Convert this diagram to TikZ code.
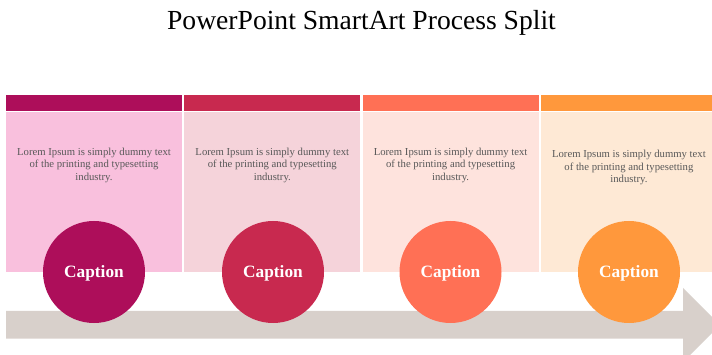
\documentclass[tikz,border=0pt]{standalone}
\usepackage{fontspec}
\setmainfont{Liberation Serif}
\definecolor{barA}{HTML}{AD0E5A}
\definecolor{barB}{HTML}{C8294F}
\definecolor{barC}{HTML}{FF7055}
\definecolor{barD}{HTML}{FF983C}
\definecolor{panA}{HTML}{F9C0DD}
\definecolor{panB}{HTML}{F5D3DA}
\definecolor{panC}{HTML}{FEE3DD}
\definecolor{panD}{HTML}{FEE9D5}
\definecolor{arrowgray}{HTML}{D8D0CB}
\definecolor{bodytext}{HTML}{595959}
\tikzset{
  bodytxt/.style={text=bodytext, font=\fontsize{10.7}{12.5}\selectfont, align=center, inner sep=0pt},
  capcircle/.style={circle, minimum size=102pt, inner sep=0pt, fill=#1},
  captxt/.style={text=white, font=\fontsize{17.3}{19}\selectfont\bfseries, inner sep=0pt, anchor=base},
}
\begin{document}
\begin{tikzpicture}[x=1pt,y=-1pt]
\useasboundingbox (0,0) rectangle (712,355);
\begin{scope}
\clip (0,0) rectangle (712,355);
% title
\node[anchor=base, font=\fontsize{27.6}{31}\selectfont, inner sep=0pt] (title) at (361.5,29.5) {PowerPoint SmartArt Process Split};
% panels
\foreach \i/\bc/\pc in {0/barA/panA,1/barB/panB,2/barC/panC,3/barD/panD}{
  \pgfmathsetmacro{\xl}{6+178.3*\i}
  \fill[\bc] (\xl,95) rectangle ++(176,15.7);
  \fill[\pc] (\xl,112.3) rectangle ++(176,159.4);
}
% texts
\node[bodytxt] (t1) at (94,165) {Lorem Ipsum is simply dummy text\\of the printing and typesetting\\industry.};
\node[bodytxt] (t2) at (272.3,165) {Lorem Ipsum is simply dummy text\\of the printing and typesetting\\industry.};
\node[bodytxt] (t3) at (450.6,165) {Lorem Ipsum is simply dummy text\\of the printing and typesetting\\industry.};
\node[bodytxt] (t4) at (628.9,167.5) {Lorem Ipsum is simply dummy text\\of the printing and typesetting\\industry.};
% arrow
\fill[arrowgray] (6,311) -- (683,311) -- (683,288) -- (720,325) -- (683,362) -- (683,338.5) -- (6,338.5) -- cycle;
% circles
\foreach \n/\x/\c in {c1/94/barA,c2/273/barB,c3/450.5/barC,c4/629/barD}{
  \node[capcircle=\c] (\n) at (\x,272) {};
  \node[captxt] (\n txt) at ([yshift=-5.8pt]\n.center) {Caption};
}
\end{scope}
\end{tikzpicture}
\end{document}
